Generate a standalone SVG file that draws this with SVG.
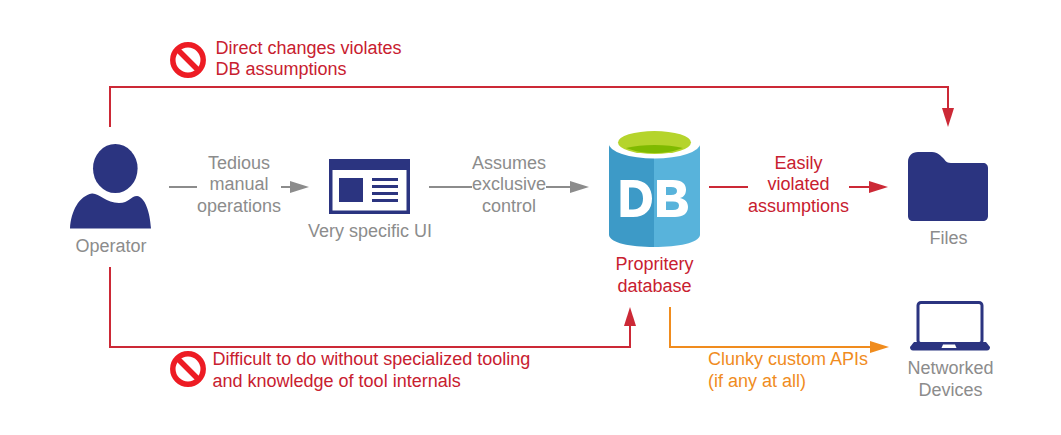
<svg xmlns="http://www.w3.org/2000/svg" width="1061" height="435" viewBox="0 0 1061 435">
<style>
text{font-family:"Liberation Sans",Arial,sans-serif;font-size:18px}
.g{fill:#8c8c8c;text-anchor:middle}
.r{fill:#c8202f}
.rm{fill:#c8202f;text-anchor:middle}
.o{fill:#f08c1e}
.navy{fill:#2b3480}
.line{fill:none;stroke-width:2}
.red{stroke:#cc2936}.gray{stroke:#8c8c8c}.orange{stroke:#f08c1e}
.ban circle{fill:none;stroke:#ed1c24;stroke-width:5.5}
.ban path{stroke:#ed1c24;stroke-width:5.5}
</style>
<defs>
<g id="ban" class="ban"><circle cx="0" cy="0" r="15.2"/><path d="M-10.5-10.5L10.5 10.5"/></g>
</defs>
<rect width="1061" height="435" fill="#fff"/>
<g id="connectors">
<path class="line red" d="M110 127V87H948V110"/>
<polygon fill="#cc2936" points="942,108 954,108 948,127"/>
<path class="line red" d="M110 267V347H630V325"/>
<polygon fill="#cc2936" points="624,326 636,326 630,307"/>
<path class="line gray" d="M169 187H197M281 187H292"/>
<polygon fill="#8c8c8c" points="290,181 309,187 290,193"/>
<path class="line gray" d="M429 187H472M546 187H572"/>
<polygon fill="#8c8c8c" points="570,181 589,187 570,193"/>
<path class="line red" d="M709 187H748M849 187H871"/>
<polygon fill="#cc2936" points="869,181 888,187 869,193"/>
<path class="line orange" d="M670 307V347H872"/>
<polygon fill="#f08c1e" points="870,341 889,347 870,353"/>
</g>
<g id="operator">
<ellipse class="navy" cx="115.300" cy="168.500" rx="22.300" ry="24.500"/>
<path class="navy" d="M70 228.500C71 211 79 196 92 193.500C99 193 106 203 119 203C129 203 131 196 137 196C145 197 150 212 151 228.500Z"/>
<text class="g" x="111" y="252">Operator</text>
</g>
<g id="ui">
<rect class="navy" x="329" y="159" width="81" height="55"/>
<rect x="332.500" y="170" width="74" height="40.500" fill="#fff"/>
<rect class="navy" x="339" y="178" width="24" height="24"/>
<path class="navy" d="M372 178h26v3h-26zM372 185h26v3h-26zM372 192h26v3h-26zM372 199h26v3h-26z"/>
<text class="g" x="370" y="237">Very specific UI</text>
</g>
<g id="database">
<path fill="#3d9ac7" d="M609 144V235C610 243 630 247 654 247V144Z"/>
<path fill="#58b3db" d="M654 144V247C678 247 699 243 700 235V144Z"/>
<ellipse cx="654.500" cy="143" rx="46" ry="15.500" fill="#fff"/>
<ellipse cx="654.500" cy="142.500" rx="36.500" ry="11.500" fill="#b5d42c"/>
<path fill="#7fba00" d="M626 148C634 151 643 153 654.500 153C666 153 675 151 683 148C675 146 665 145 654.500 145C644 145 634 146 626 148Z"/>
<path fill="#fff" fill-rule="evenodd" d="M620.500 180H633C646 180 652 188 652 198.500C652 210 645 217 633 217H620.500ZM629 187.500V209.500H633C639.500 209.500 643 205.500 643 198.500C643 191.500 639.500 187.500 633 187.500Z"/>
<path fill="#fff" fill-rule="evenodd" d="M657 180H673C682 180 686 184 686 189.500C686 194 684 197 680 198C685 199 688 202 688 207C688 213.500 683 217 675 217H657ZM666 187V195H671C675 195 677 193.500 677 191C677 188.500 675 187 671 187ZM666 201.500V210H673C677 210 679 208.500 679 205.500C679 203 677 201.500 673 201.500Z"/>
<text class="rm" x="654.500" y="270">Propritery</text>
<text class="rm" x="654.500" y="292">database</text>
</g>
<g id="files">
<path class="navy" d="M908 162C908 156 912 152 918 152H932C938 152 941 156 944 159C946 162 948 163 951 163H983C986 163 988 165 988 168V216C988 219 986 221 983 221H913C910 221 908 219 908 216Z"/>
<text class="g" x="948.500" y="244">Files</text>
</g>
<g id="devices">
<rect x="918" y="302.500" width="64" height="41" rx="3" fill="none" stroke="#2b3480" stroke-width="3"/>
<path class="navy" d="M914 342H986L990 347C990 349 989 350.500 987 350.500H913C911 350.500 910 349 910 347Z"/>
<path fill="#fff" d="M943 344.500H955L956.500 348H941.500Z"/>
<text class="g" x="950.500" y="374">Networked</text>
<text class="g" x="950.500" y="396">Devices</text>
</g>
<g id="labels">
<use href="#ban" x="188" y="60"/>
<text class="r" x="215.500" y="54">Direct changes violates</text>
<text class="r" x="215.500" y="75">DB assumptions</text>
<use href="#ban" x="188" y="369"/>
<text class="r" x="212.500" y="365">Difficult to do without specialized tooling</text>
<text class="r" x="212.500" y="387">and knowledge of tool internals</text>
<text class="g" x="239" y="168.500">Tedious</text>
<text class="g" x="239" y="190">manual</text>
<text class="g" x="239" y="212">operations</text>
<text class="g" x="509" y="168.500">Assumes</text>
<text class="g" x="509" y="190">exclusive</text>
<text class="g" x="509" y="212">control</text>
<text class="rm" x="798.500" y="168.500">Easily</text>
<text class="rm" x="798.500" y="190">violated</text>
<text class="rm" x="798.500" y="212">assumptions</text>
<text class="o" x="708" y="365">Clunky custom APIs</text>
<text class="o" x="708" y="387">(if any at all)</text>
</g>
</svg>
